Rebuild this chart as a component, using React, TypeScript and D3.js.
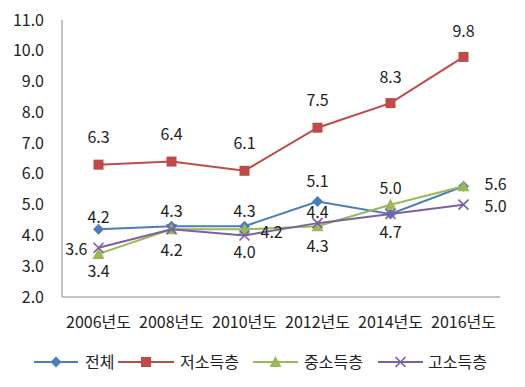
import React from "react";
import * as d3 from "d3";

const years = ["2006년도", "2008년도", "2010년도", "2012년도", "2014년도", "2016년도"];
const total = [4.2, 4.3, 4.3, 5.1, 4.7, 5.6];
const lowIncome = [6.3, 6.4, 6.1, 7.5, 8.3, 9.8];
const midIncome = [3.4, 4.2, 4.2, 4.3, 5.0, 5.6];
const highIncome = [3.6, 4.2, 4.0, 4.4, 4.7, 5.0];
const yTicks = [2, 3, 4, 5, 6, 7, 8, 9, 10, 11];

// label placement relative to the point: [dx, dy, anchor]
type Lbl = [number, number, string];
const A = (dy: number): Lbl => [0, dy, "middle"];
const R = (dy: number): Lbl => [21, dy, "start"];

const series = [
  { name: "전체", values: total, color: "#4a7ebb", marker: "diamond",
    lbl: [A(-12), A(-15), A(-15), A(-20), A(18), R(-2)] },
  { name: "저소득층", values: lowIncome, color: "#be4b48", marker: "square",
    lbl: [A(-27), A(-27), A(-27), A(-27), A(-26), A(-26)] },
  { name: "중소득층", values: midIncome, color: "#98b954", marker: "triangle",
    lbl: [A(17), A(21), [16, 3, "start"] as Lbl, A(20), A(-16), R(-2)] },
  { name: "고소득층", values: highIncome, color: "#7d60a0", marker: "x",
    lbl: [[-11, 2, "end"] as Lbl, A(21), A(17), A(-11), A(18), R(2)] },
];

const margin = { top: 20, right: 25, bottom: 90, left: 62 };
const W = 525, H = 387;
const font = "'Noto Sans CJK KR', 'Noto Sans', sans-serif";

function Marker({ kind, x, y, color }: { kind: string; x: number; y: number; color: string }) {
  if (kind === "diamond")
    return <path d={`M${x},${y - 5.5}L${x + 5.5},${y}L${x},${y + 5.5}L${x - 5.5},${y}Z`} fill={color} />;
  if (kind === "square")
    return <rect x={x - 5} y={y - 5} width={10} height={10} fill={color} />;
  if (kind === "triangle")
    return <path d={`M${x},${y - 6}L${x + 6},${y + 5}L${x - 6},${y + 5}Z`} fill={color} />;
  return (
    <path d={`M${x - 5},${y - 5}L${x + 5},${y + 5}M${x - 5},${y + 5}L${x + 5},${y - 5}`}
      stroke={color} strokeWidth={1.6} fill="none" />
  );
}

export default function App() {
  const x = d3.scaleBand<string>().domain(years).range([margin.left, W - margin.right]);
  const y = d3.scaleLinear().domain([2, 11]).range([H - margin.bottom, margin.top]);
  const cx = (d: string) => (x(d) as number) + x.bandwidth() / 2;
  const line = d3.line<number>().x((_, i) => cx(years[i])).y((v) => y(v));

  const legendItems = [
    { lx: 34, tx: 85, len: 44 },
    { lx: 118, tx: 180, len: 56 },
    { lx: 253, tx: 304, len: 45 },
    { lx: 378, tx: 428, len: 45 },
  ];

  // collect data labels, drop ones that land exactly on top of another
  const labels: { key: string; x: number; y: number; anchor: string; text: string }[] = [];
  series.forEach((s) =>
    s.values.forEach((v, i) => {
      const [dx, dy, anchor] = s.lbl[i];
      const lx = cx(years[i]) + dx;
      const ly = y(v) + dy;
      const text = v.toFixed(1);
      if (labels.some((l) => l.text === text && Math.abs(l.x - lx) < 4 && Math.abs(l.y - ly) < 8)) return;
      labels.push({ key: s.name + i, x: lx, y: ly, anchor, text });
    })
  );

  return (
    <svg width={W} height={H} style={{ position: "absolute", left: 0, top: 0, background: "#fff" }}
      fontFamily={font}>
      <line x1={margin.left} x2={margin.left} y1={y(11)} y2={y(2)} stroke="#868686" strokeWidth={1} />
      <line x1={margin.left} x2={W - margin.right} y1={y(2)} y2={y(2)} stroke="#868686" strokeWidth={1} />
      {yTicks.map((t) => (
        <text key={t} x={44} y={y(t)} dy="0.35em" textAnchor="end" fontSize={16} fill="#222">
          {t.toFixed(1)}
        </text>
      ))}
      {years.map((yr) => (
        <text key={yr} x={cx(yr)} y={y(2) + 25} dy="0.35em" textAnchor="middle" fontSize={16} fill="#222">
          {yr}
        </text>
      ))}
      {series.map((s) => (
        <g key={s.name}>
          <path d={line(s.values) || ""} fill="none" stroke={s.color} strokeWidth={2} />
          {s.values.map((v, i) => (
            <Marker key={i} kind={s.marker} x={cx(years[i])} y={y(v)} color={s.color} />
          ))}
        </g>
      ))}
      {labels.map((l) => (
        <text key={l.key} x={l.x} y={l.y} dy="0.35em" textAnchor={l.anchor} fontSize={16} fill="#222">
          {l.text}
        </text>
      ))}
      {series.map((s, i) => {
        const ly = 362;
        const l = legendItems[i];
        return (
          <g key={s.name}>
            <line x1={l.lx} x2={l.lx + l.len} y1={ly} y2={ly} stroke={s.color} strokeWidth={2} />
            <Marker kind={s.marker} x={l.lx + l.len / 2} y={ly} color={s.color} />
            <text x={l.tx} y={ly} dy="0.35em" fontSize={16} fill="#222">{s.name}</text>
          </g>
        );
      })}
    </svg>
  );
}
